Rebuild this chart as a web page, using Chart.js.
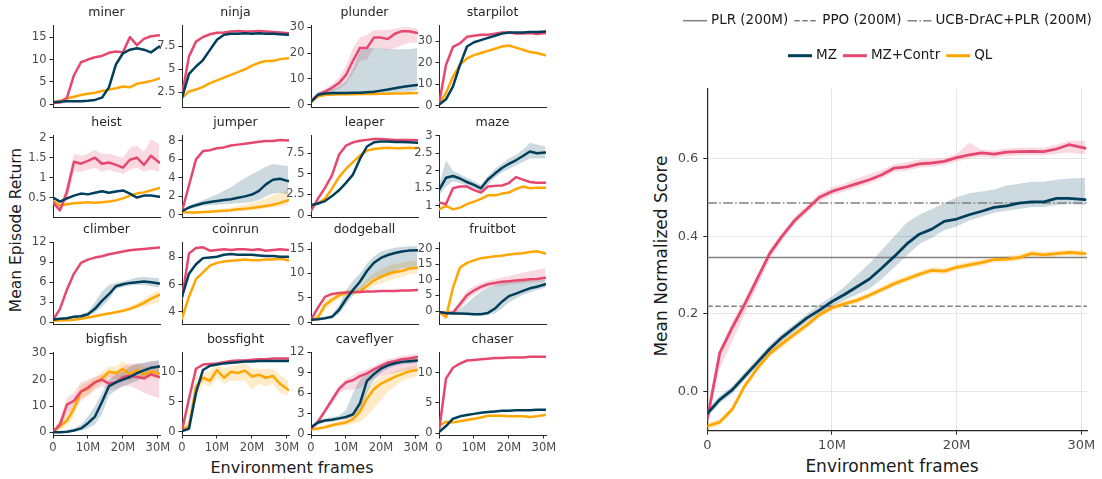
<!DOCTYPE html>
<html>
<head>
<meta charset="utf-8">
<script src="https://cdn.jsdelivr.net/npm/chart.js@4.4.0/dist/chart.umd.min.js"></script>
<style>
  body { margin: 0; background: #fff; width: 1102px; height: 479px; position: relative; overflow: hidden; font-family: 'DejaVu Sans', sans-serif; }
  canvas { position: absolute; }
  .lbl { position: absolute; white-space: nowrap; color: #1a1a1a; transform: translate(-50%, -50%); }
  .rot { transform: translate(-50%, -50%) rotate(-90deg); }
</style>
</head>
<body>
<div class="lbl rot" style="left:15.5px;top:230px;font-size:15.5px">Mean Episode Return</div>
<div class="lbl" style="left:292px;top:467px;font-size:16px">Environment frames</div>
<div class="lbl rot" style="left:661px;top:256px;font-size:17px">Mean Normalized Score</div>
<div class="lbl" style="left:892px;top:466px;font-size:17px">Environment frames</div>
<script>
// ---- data (frames in millions) ----
const seriesNames = ['MZ', 'MZ+Contr', 'QL'];
const frames = [0, 2, 4, 6, 8, 10, 12, 14, 16, 18, 20, 22, 24, 26, 28, 30.4];

const minerMZ = [0.5, 0.6, 0.7, 0.7, 0.7, 0.8, 1.0, 1.5, 3.8, 8.9, 11.4, 12.2, 12.5, 12.2, 11.6, 12.9];
const minerContr = [0.3, 0.4, 1.5, 6.5, 9.4, 10.0, 10.5, 10.8, 11.5, 11.8, 11.6, 15.0, 13.2, 14.6, 15.2, 15.4];
const minerQL = [0.4, 0.8, 1.3, 1.7, 2.1, 2.4, 2.6, 3.0, 3.3, 3.6, 4.0, 3.8, 4.6, 4.9, 5.2, 5.8];
const minerTicks = [0, 5, 10, 15];

const ninjaMZ = [1.9, 4.5, 5.3, 6.0, 7.1, 8.2, 8.75, 8.85, 8.85, 8.9, 8.85, 8.9, 8.85, 8.85, 8.8, 8.75];
const ninjaContr = [2.2, 6.4, 8.0, 8.5, 8.8, 8.95, 9.0, 9.1, 9.15, 9.1, 9.1, 9.15, 9.1, 9.05, 9.0, 8.9];
const ninjaQL = [1.9, 2.6, 2.8, 3.1, 3.5, 3.8, 4.1, 4.4, 4.7, 5.0, 5.4, 5.7, 5.9, 5.9, 6.1, 6.2];
const ninjaTicks = [2.5, 5, 7.5];

const plunderMZ = [1.0, 3.8, 4.3, 4.5, 4.5, 4.5, 4.6, 4.6, 4.8, 5.0, 5.4, 5.8, 6.3, 6.8, 7.2, 7.6];
const plunderMZLow = [0.3, 2.5, 3.5, 3.5, 3.5, 3.5, 3.6, 3.6, 3.7, 3.8, 4.0, 4.2, 4.5, 5.0, 5.0, 5.5];
const plunderMZHigh = [1.5, 5.0, 5.5, 6.0, 7.0, 9.0, 14, 21, 22, 22, 22, 21.5, 21.5, 21.5, 21.5, 22];
const plunderContr = [1.5, 3.8, 5.0, 6.5, 8.3, 11.5, 17, 22, 22, 26, 26, 25.5, 27.5, 28.5, 28.5, 27.8];
const plunderContrLow = [1.0, 3.0, 4.0, 5.0, 6.0, 8.0, 12, 17, 17.5, 22, 22, 21, 22, 23, 24, 24];
const plunderContrHigh = [2.0, 4.5, 6.0, 8.0, 10.5, 15, 22, 26, 27, 29, 29, 29, 29.5, 30, 30, 29.5];
const plunderQL = [1.0, 3.2, 3.7, 3.9, 4.0, 4.0, 4.0, 4.1, 4.1, 4.1, 4.2, 4.2, 4.3, 4.3, 4.4, 4.5];
const plunderTicks = [0, 10, 20, 30];

const starpilotMZ = [0.5, 3, 9, 19, 27.5, 29.5, 30.5, 31.5, 32.5, 33.5, 34, 34, 34, 34.2, 34.3, 34.5];
const starpilotContr = [0.8, 19, 27.3, 29, 32, 32.5, 33, 33, 33.5, 34, 34, 33.5, 33.5, 33.8, 33.3, 33.8];
const starpilotQL = [0.5, 6, 13.5, 19, 22, 23.5, 24.5, 25.5, 26.5, 27.5, 28, 27, 26, 25, 24.5, 23.5];
const starpilotTicks = [0, 10, 20, 30];

const heistMZ = [0.5, 0.4, 0.48, 0.55, 0.6, 0.58, 0.62, 0.66, 0.62, 0.65, 0.68, 0.6, 0.5, 0.55, 0.55, 0.52];
const heistContr = [0.38, 0.18, 0.65, 1.4, 1.35, 1.42, 1.5, 1.35, 1.38, 1.32, 1.25, 1.45, 1.5, 1.32, 1.55, 1.38];
const heistContrLow = [0.3, 0.15, 0.4, 1.15, 1.15, 1.2, 1.25, 1.15, 1.2, 1.15, 1.1, 1.2, 1.25, 1.15, 1.2, 1.15];
const heistContrHigh = [0.45, 0.25, 0.85, 1.6, 1.55, 1.6, 1.7, 1.6, 1.6, 1.55, 1.5, 1.75, 1.8, 1.65, 1.95, 1.85];
const heistQL = [0.42, 0.3, 0.33, 0.36, 0.37, 0.38, 0.37, 0.38, 0.4, 0.43, 0.48, 0.55, 0.6, 0.63, 0.68, 0.74];
const heistTicks = [0.5, 1, 1.5, 2];

const jumperMZ = [0.4, 0.8, 1.05, 1.25, 1.4, 1.5, 1.6, 1.7, 1.85, 2.0, 2.2, 2.6, 3.3, 3.8, 3.9, 3.65];
const jumperMZLow = [0.3, 0.6, 0.8, 1, 1.05, 1.1, 1.15, 1.2, 1.25, 1.3, 1.4, 1.6, 2, 2.3, 2.4, 2.2];
const jumperMZHigh = [0.5, 1, 1.3, 1.6, 1.9, 2.2, 2.6, 3, 3.5, 4, 4.4, 4.8, 5.2, 5.5, 5.4, 5.3];
const jumperContr = [0.4, 3.2, 6.0, 6.9, 7.0, 7.2, 7.3, 7.5, 7.6, 7.7, 7.8, 7.9, 8.0, 8.0, 8.1, 8.05];
const jumperQL = [0.3, 0.25, 0.25, 0.3, 0.35, 0.4, 0.45, 0.5, 0.6, 0.65, 0.75, 0.85, 0.95, 1.1, 1.3, 1.6];
const jumperQLLow = [0.25, 0.2, 0.2, 0.25, 0.25, 0.3, 0.3, 0.35, 0.4, 0.45, 0.5, 0.6, 0.7, 0.8, 0.9, 1.1];
const jumperQLHigh = [0.35, 0.3, 0.3, 0.4, 0.5, 0.6, 0.7, 0.8, 0.95, 1.1, 1.3, 1.5, 1.8, 2.1, 2.4, 2.7];
const jumperTicks = [0, 2, 4, 6, 8];

const leaperMZ = [1.2, 1.4, 1.7, 2.3, 3.0, 3.9, 4.9, 6.8, 8.3, 8.8, 8.9, 8.9, 8.85, 8.85, 8.8, 8.75];
const leaperContr = [0.5, 2.0, 3.3, 4.8, 7.3, 8.4, 8.8, 9.0, 9.1, 9.2, 9.2, 9.15, 9.1, 9.1, 9.1, 9.05];
const leaperQL = [1.2, 1.4, 2.0, 3.2, 4.6, 5.6, 6.4, 7.2, 7.8, 8.0, 8.1, 8.15, 8.1, 8.1, 8.15, 8.1];
const leaperTicks = [0, 2.5, 5, 7.5];

const mazeMZ = [1.45, 1.8, 1.85, 1.78, 1.68, 1.6, 1.5, 1.75, 1.92, 2.08, 2.2, 2.3, 2.42, 2.55, 2.5, 2.52];
const mazeMZLow = [1.3, 1.55, 1.7, 1.65, 1.55, 1.5, 1.4, 1.6, 1.8, 1.95, 2.05, 2.15, 2.25, 2.35, 2.35, 2.35];
const mazeMZHigh = [1.6, 2.3, 2.0, 1.9, 1.8, 1.7, 1.6, 1.85, 2.05, 2.2, 2.35, 2.45, 2.6, 2.8, 2.75, 2.7];
const mazeContr = [1.1, 1.05, 1.5, 1.55, 1.55, 1.45, 1.38, 1.55, 1.57, 1.58, 1.65, 1.82, 1.75, 1.68, 1.66, 1.66];
const mazeQL = [0.9, 1.0, 0.9, 0.95, 1.05, 1.12, 1.2, 1.3, 1.3, 1.35, 1.38, 1.48, 1.55, 1.5, 1.52, 1.52];
const mazeTicks = [1, 1.5, 2, 2.5, 3];

const climberMZ = [0.4, 0.5, 0.6, 0.8, 0.9, 1.2, 2.0, 3.2, 4.2, 5.4, 5.7, 5.9, 6.0, 6.1, 6.0, 5.8];
const climberMZLow = [0.3, 0.4, 0.5, 0.6, 0.7, 0.9, 1.4, 2.3, 3.4, 5.0, 5.3, 5.5, 5.6, 5.6, 5.4, 5.2];
const climberMZHigh = [0.5, 0.6, 0.8, 1.0, 1.2, 1.6, 3.0, 4.6, 5.6, 5.9, 6.1, 6.4, 6.7, 6.8, 6.7, 6.6];
const climberContr = [0.3, 2.0, 4.9, 7.3, 8.9, 9.4, 9.7, 9.9, 10.2, 10.4, 10.6, 10.8, 10.9, 11.0, 11.1, 11.2];
const climberQL = [0.2, 0.25, 0.3, 0.35, 0.5, 0.7, 0.9, 1.1, 1.3, 1.5, 1.7, 2.0, 2.4, 2.9, 3.5, 4.1];
const climberQLLow = [0.1, 0.15, 0.2, 0.25, 0.4, 0.55, 0.75, 0.95, 1.1, 1.3, 1.45, 1.7, 2.0, 2.3, 2.7, 3.0];
const climberQLHigh = [0.3, 0.35, 0.4, 0.45, 0.6, 0.8, 1.0, 1.25, 1.5, 1.7, 2.0, 2.4, 2.9, 3.5, 4.2, 4.9];
const climberTicks = [0, 3, 6, 9, 12];

const coinrunMZ = [5.1, 6.8, 7.5, 7.95, 8.0, 8.05, 8.2, 8.25, 8.2, 8.2, 8.2, 8.15, 8.1, 8.1, 8.05, 8.05];
const coinrunContr = [5.0, 8.3, 8.7, 8.75, 8.5, 8.55, 8.6, 8.55, 8.6, 8.6, 8.55, 8.6, 8.5, 8.55, 8.6, 8.55];
const coinrunQL = [3.5, 5.1, 6.4, 6.9, 7.4, 7.6, 7.7, 7.75, 7.8, 7.85, 7.8, 7.8, 7.85, 7.85, 7.9, 7.8];
const coinrunTicks = [4, 5, 6, 7, 8, 9];

const dodgeballMZ = [0.5, 0.6, 0.8, 1.1, 2.5, 4.7, 6.6, 8.3, 10.5, 12.2, 13.2, 13.8, 14.2, 14.5, 14.7, 14.8];
const dodgeballMZLow = [0.3, 0.4, 0.6, 0.8, 1.8, 3.5, 5.5, 6.5, 8, 9, 9.5, 10, 10.5, 11, 11.2, 11.5];
const dodgeballMZHigh = [0.7, 0.8, 1.0, 1.5, 3.5, 6.5, 8.5, 10, 12, 13.5, 14.5, 15, 15.3, 15.5, 15.6, 15.6];
const dodgeballContr = [0.5, 3.0, 5.2, 5.8, 6.0, 6.1, 6.2, 6.2, 6.3, 6.3, 6.4, 6.4, 6.4, 6.5, 6.5, 6.6];
const dodgeballQL = [0.3, 1.0, 3.5, 4.6, 5.5, 6.0, 6.1, 6.3, 7.5, 8.6, 9.3, 9.9, 10.3, 10.5, 11.0, 11.2];
const dodgeballQLLow = [0.2, 0.5, 2.5, 3.8, 4.8, 5.5, 5.7, 5.8, 6.5, 7.5, 8, 8.5, 9, 9.3, 9.8, 10];
const dodgeballQLHigh = [0.5, 1.8, 4.5, 5.5, 6.3, 6.6, 6.7, 7.2, 8.8, 10, 10.8, 11.5, 12, 12.2, 12.5, 12.7];
const dodgeballTicks = [0, 5, 10, 15];

const fruitbotMZ = [-0.3, -0.6, -0.8, -0.8, -0.9, -1.0, -1.0, -0.6, 0.8, 3.0, 4.8, 5.6, 6.5, 7.3, 7.8, 8.6];
const fruitbotMZLow = [-0.5, -0.9, -1.2, -1.3, -1.3, -1.4, -1.4, -1.2, -0.8, 0.8, 2.8, 4, 5.2, 6, 6.8, 7.5];
const fruitbotMZHigh = [-0.2, -0.3, -0.3, 0.5, 2.5, 4.5, 6.3, 7.5, 8.3, 9, 9.3, 9.5, 9.7, 9.8, 9.9, 10];
const fruitbotContr = [-0.3, -0.7, -0.5, 2.2, 5.1, 6.6, 7.8, 8.6, 9.0, 9.4, 9.6, 9.8, 10.0, 10.2, 10.3, 10.7];
const fruitbotContrLow = [-0.6, -1.1, -1.2, 0.5, 3.5, 5.2, 6.6, 7.5, 8, 8.2, 8.5, 8.7, 8.9, 9.1, 9.3, 9.5];
const fruitbotContrHigh = [0, -0.3, 0.3, 3.5, 6.5, 8, 9, 9.7, 10.2, 10.8, 11.3, 11.8, 12.3, 12.8, 13.3, 13.8];
const fruitbotQL = [-0.3, -2.0, 7.5, 14, 15.5, 16.3, 17, 17.3, 17.6, 17.8, 18.2, 18.4, 18.6, 19, 19.2, 18.5];
const fruitbotTicks = [0, 5, 10, 15, 20];

const bigfishMZ = [0, 0, 0.2, 0.7, 1.5, 3.5, 6, 11.5, 17.5, 19, 20, 21, 22.5, 23.5, 24.5, 25];
const bigfishMZLow = [0, 0, 0, 0.2, 0.6, 1.5, 3, 7, 14, 16, 17.5, 18.5, 19.5, 21, 22, 22.5];
const bigfishMZHigh = [0.3, 0.3, 0.7, 1.5, 3, 6, 10, 15, 20, 22, 23, 25, 26, 26.5, 27, 27.5];
const bigfishContr = [0.2, 3.0, 10.5, 12, 15.5, 17, 19, 20, 18.5, 19, 21, 21.5, 21, 20.5, 22, 21];
const bigfishContrLow = [0, 1.5, 7, 9, 12, 14, 16, 17.5, 16, 16.5, 17.5, 17.5, 16.5, 15, 14, 13];
const bigfishContrHigh = [0.5, 5, 13, 15, 19, 20, 21, 22, 22, 23, 25, 26, 26, 26, 27, 27];
const bigfishQL = [0.2, 2.3, 4.5, 9, 15.5, 16.5, 19, 20.5, 23, 22.5, 24, 22, 23.5, 22, 23, 22.3];
const bigfishQLLow = [0, 1, 2.5, 6, 13, 14, 17, 18.5, 21, 20, 21.5, 19.5, 21, 19.5, 21, 20];
const bigfishQLHigh = [0.5, 4, 7, 12, 18, 19, 21, 23, 25, 25, 27, 25, 26, 25, 25, 24.5];
const bigfishTicks = [0, 10, 20, 30];

const bossfightMZ = [0.1, 0.5, 6.5, 10.3, 11.0, 11.2, 11.4, 11.5, 11.6, 11.7, 11.7, 11.8, 11.8, 11.8, 11.8, 11.8];
const bossfightContr = [0.2, 5.5, 10.5, 11.2, 11.3, 11.4, 11.6, 11.8, 11.9, 11.9, 12.0, 12.1, 12.1, 12.2, 12.2, 12.2];
const bossfightQL = [0.3, 1.0, 7.5, 9.0, 8.5, 10.3, 9.0, 10.0, 9.8, 10.2, 9.2, 9.5, 9.0, 9.3, 8.0, 7.0];
const bossfightQLLow = [0.1, 0.5, 5, 8, 7.5, 9, 8, 8.5, 8.5, 8.5, 7, 8, 7.5, 8, 6.5, 6];
const bossfightQLHigh = [0.5, 2, 9, 10, 10, 11.5, 10.5, 11, 11, 11.5, 10.5, 10.5, 10.5, 10.5, 9.5, 8.5];
const bossfightTicks = [0, 5, 10];

const caveflyerMZ = [1.0, 1.7, 2.0, 2.1, 2.3, 2.5, 2.9, 4.5, 7.8, 8.8, 9.6, 10.1, 10.4, 10.6, 10.7, 10.8];
const caveflyerMZLow = [0.8, 1.4, 1.7, 1.8, 2, 2.2, 2.5, 3, 6, 8, 9, 9.6, 10, 10.2, 10.3, 10.4];
const caveflyerMZHigh = [1.2, 2, 2.3, 2.5, 2.7, 3.5, 6, 8, 9, 9.5, 10.2, 10.6, 10.9, 11.1, 11.2, 11.3];
const caveflyerContr = [0.8, 1.8, 3.4, 5.0, 6.6, 7.6, 7.9, 8.5, 8.9, 9.5, 10.0, 10.5, 10.7, 11.0, 11.1, 11.3];
const caveflyerContrLow = [0.6, 1.4, 3, 4.5, 6, 6.5, 6.5, 6.8, 7.5, 8, 8.5, 8.8, 9, 9.2, 9.4, 9.5];
const caveflyerContrHigh = [1, 2.2, 3.8, 5.5, 7.2, 8.1, 8.6, 9.2, 9.5, 10, 10.5, 11, 11.2, 11.5, 11.6, 11.8];
const caveflyerQL = [0.7, 0.8, 1.0, 1.3, 1.5, 1.7, 2.2, 3.3, 5.2, 6.6, 7.4, 7.9, 8.4, 8.8, 9.2, 9.4];
const caveflyerQLLow = [0.5, 0.6, 0.8, 1, 1.2, 1.3, 1.5, 1.8, 2.6, 3.8, 5, 6.2, 7, 7.8, 8.2, 8.5];
const caveflyerQLHigh = [0.9, 1, 1.3, 1.6, 1.9, 2.3, 3.2, 5, 6.5, 7.7, 8.4, 8.9, 9.3, 9.6, 9.9, 10.1];
const caveflyerTicks = [0, 3, 6, 9, 12];

const chaserMZ = [0.2, 1.2, 2.4, 2.8, 3.0, 3.2, 3.4, 3.5, 3.6, 3.7, 3.7, 3.8, 3.8, 3.8, 3.9, 3.9];
const chaserContr = [0.3, 9.0, 10.8, 11.5, 12.0, 12.1, 12.2, 12.3, 12.4, 12.4, 12.5, 12.5, 12.5, 12.6, 12.6, 12.6];
const chaserQL = [1.2, 1.9, 1.8, 2.0, 2.2, 2.4, 2.6, 2.9, 2.9, 2.9, 2.8, 2.8, 2.8, 2.7, 2.8, 3.0];
const chaserTicks = [0, 5, 10];

// right panel: mean normalized score
const bigFrames = [0, 1, 2, 3, 4, 5, 6, 7, 8, 9, 10, 11, 12, 13, 14, 15, 16, 17, 18, 19, 20, 21, 22, 23, 24, 25, 26, 27, 28, 29, 30.3];
const bigMZ = [-0.056, -0.02, 0.005, 0.04, 0.075, 0.11, 0.14, 0.165, 0.19, 0.21, 0.232, 0.25, 0.27, 0.29, 0.318, 0.348, 0.38, 0.405, 0.418, 0.438, 0.444, 0.455, 0.464, 0.474, 0.478, 0.485, 0.488, 0.488, 0.497, 0.497, 0.494];
const bigMZLow = [-0.065, -0.03, -0.005, 0.03, 0.065, 0.1, 0.13, 0.155, 0.18, 0.2, 0.22, 0.235, 0.25, 0.265, 0.29, 0.32, 0.35, 0.38, 0.395, 0.415, 0.425, 0.44, 0.45, 0.46, 0.465, 0.47, 0.475, 0.475, 0.48, 0.482, 0.48];
const bigMZHigh = [-0.045, -0.01, 0.015, 0.05, 0.085, 0.12, 0.15, 0.175, 0.2, 0.225, 0.245, 0.27, 0.3, 0.33, 0.365, 0.4, 0.435, 0.455, 0.47, 0.485, 0.5, 0.51, 0.515, 0.52, 0.53, 0.535, 0.54, 0.54, 0.545, 0.548, 0.55];
const bigContr = [-0.07, 0.10, 0.165, 0.225, 0.29, 0.355, 0.40, 0.44, 0.47, 0.50, 0.515, 0.525, 0.535, 0.545, 0.558, 0.575, 0.578, 0.586, 0.588, 0.592, 0.602, 0.609, 0.614, 0.611, 0.616, 0.617, 0.618, 0.617, 0.624, 0.635, 0.626];
const bigContrLow = [-0.08, 0.06, 0.13, 0.2, 0.27, 0.34, 0.39, 0.43, 0.46, 0.49, 0.505, 0.515, 0.525, 0.535, 0.548, 0.565, 0.568, 0.576, 0.578, 0.582, 0.592, 0.6, 0.604, 0.601, 0.606, 0.607, 0.608, 0.607, 0.612, 0.615, 0.61];
const bigContrHigh = [-0.06, 0.11, 0.18, 0.24, 0.3, 0.365, 0.41, 0.45, 0.48, 0.51, 0.525, 0.535, 0.548, 0.56, 0.57, 0.585, 0.59, 0.597, 0.598, 0.6, 0.612, 0.64, 0.622, 0.62, 0.625, 0.627, 0.628, 0.627, 0.635, 0.645, 0.645];
const bigQL = [-0.088, -0.078, -0.045, 0.015, 0.06, 0.098, 0.124, 0.148, 0.172, 0.198, 0.216, 0.226, 0.235, 0.248, 0.263, 0.278, 0.29, 0.302, 0.312, 0.31, 0.32, 0.326, 0.332, 0.34, 0.341, 0.345, 0.355, 0.352, 0.355, 0.358, 0.355];
const bigQLLow = [-0.096, -0.086, -0.053, 0.007, 0.052, 0.09, 0.114, 0.138, 0.163, 0.19, 0.208, 0.218, 0.227, 0.24, 0.255, 0.27, 0.282, 0.294, 0.304, 0.302, 0.312, 0.318, 0.324, 0.332, 0.333, 0.337, 0.347, 0.344, 0.347, 0.35, 0.347];
const bigQLHigh = [-0.08, -0.07, -0.037, 0.023, 0.068, 0.106, 0.134, 0.156, 0.181, 0.206, 0.224, 0.234, 0.243, 0.256, 0.271, 0.286, 0.298, 0.31, 0.32, 0.318, 0.328, 0.334, 0.34, 0.348, 0.349, 0.353, 0.363, 0.36, 0.363, 0.366, 0.363];
const bigYTicks = [0, 0.2, 0.4, 0.6];
const frameTicks = [0, 10, 20, 30];

const baselineNames = ['PLR (200M)', 'PPO (200M)', 'UCB-DrAC+PLR (200M)'];
const baselineScores = [0.345, 0.22, 0.485];

// ---- styling / layout ----
Chart.defaults.font.family = "'DejaVu Sans', sans-serif";
const COLORS = { mz: '#003f5c', contr: '#e5476f', ql: '#ffa600' };
const BAND = { mz: 'rgba(0,63,92,0.2)', contr: 'rgba(229,71,111,0.2)', ql: 'rgba(255,166,0,0.22)' };
const BASE_DASH = [[], [5.5, 2.5], [9.6, 2.4, 1.5, 2.4]];
const TICK_COLOR = '#4a4a4a';
const AXIS_COLOR = '#262626';

const colLeft = [53, 182, 311, 439];
const rowTop = [25, 135, 242, 352];
const PLOT_W = 107, PLOT_H = 83, AXIS_W = 30, TOP_PAD = 2, TITLE_H = 20, RIGHT_PAD = 14, BOTTOM_PAD = 8;
const SMALL_XMAX = 30.6;

const panels = [
  { name: 'miner', mz: minerMZ, contr: minerContr, ql: minerQL, ticks: minerTicks, yMin: -0.6, yMax: 17.7, bands: [] },
  { name: 'ninja', mz: ninjaMZ, contr: ninjaContr, ql: ninjaQL, ticks: ninjaTicks, yMin: 0.9, yMax: 9.8, bands: [] },
  { name: 'plunder', mz: plunderMZ, contr: plunderContr, ql: plunderQL, ticks: plunderTicks, yMin: -1.0, yMax: 30.9,
    bands: [['mz', plunderMZLow, plunderMZHigh], ['contr', plunderContrLow, plunderContrHigh]] },
  { name: 'starpilot', mz: starpilotMZ, contr: starpilotContr, ql: starpilotQL, ticks: starpilotTicks, yMin: -0.6, yMax: 37.5, bands: [] },
  { name: 'heist', mz: heistMZ, contr: heistContr, ql: heistQL, ticks: heistTicks, yMin: 0.01, yMax: 2.07,
    bands: [['contr', heistContrLow, heistContrHigh]] },
  { name: 'jumper', mz: jumperMZ, contr: jumperContr, ql: jumperQL, ticks: jumperTicks, yMin: -0.24, yMax: 8.64,
    bands: [['mz', jumperMZLow, jumperMZHigh], ['ql', jumperQLLow, jumperQLHigh]] },
  { name: 'leaper', mz: leaperMZ, contr: leaperContr, ql: leaperQL, ticks: leaperTicks, yMin: -0.24, yMax: 9.69, bands: [] },
  { name: 'maze', mz: mazeMZ, contr: mazeContr, ql: mazeQL, ticks: mazeTicks, yMin: 0.68, yMax: 3.02,
    bands: [['mz', mazeMZLow, mazeMZHigh]] },
  { name: 'climber', mz: climberMZ, contr: climberContr, ql: climberQL, ticks: climberTicks, yMin: -0.29, yMax: 12.04,
    bands: [['mz', climberMZLow, climberMZHigh], ['ql', climberQLLow, climberQLHigh]] },
  { name: 'coinrun', mz: coinrunMZ, contr: coinrunContr, ql: coinrunQL, ticks: coinrunTicks, yMin: 3.08, yMax: 9.14, bands: [] },
  { name: 'dodgeball', mz: dodgeballMZ, contr: dodgeballContr, ql: dodgeballQL, ticks: dodgeballTicks, yMin: -0.4, yMax: 16.47,
    bands: [['mz', dodgeballMZLow, dodgeballMZHigh], ['ql', dodgeballQLLow, dodgeballQLHigh]] },
  { name: 'fruitbot', mz: fruitbotMZ, contr: fruitbotContr, ql: fruitbotQL, ticks: fruitbotTicks, yMin: -4.2, yMax: 22.2,
    bands: [['mz', fruitbotMZLow, fruitbotMZHigh], ['contr', fruitbotContrLow, fruitbotContrHigh]] },
  { name: 'bigfish', mz: bigfishMZ, contr: bigfishContr, ql: bigfishQL, ticks: bigfishTicks, yMin: -1.0, yMax: 30.5,
    bands: [['mz', bigfishMZLow, bigfishMZHigh], ['contr', bigfishContrLow, bigfishContrHigh], ['ql', bigfishQLLow, bigfishQLHigh]] },
  { name: 'bossfight', mz: bossfightMZ, contr: bossfightContr, ql: bossfightQL, ticks: bossfightTicks, yMin: -0.55, yMax: 13.3,
    bands: [['ql', bossfightQLLow, bossfightQLHigh]] },
  { name: 'caveflyer', mz: caveflyerMZ, contr: caveflyerContr, ql: caveflyerQL, ticks: caveflyerTicks, yMin: -0.14, yMax: 12.05,
    bands: [['mz', caveflyerMZLow, caveflyerMZHigh], ['contr', caveflyerContrLow, caveflyerContrHigh], ['ql', caveflyerQLLow, caveflyerQLHigh]] },
  { name: 'chaser', mz: chaserMZ, contr: chaserContr, ql: chaserQL, ticks: chaserTicks, yMin: -0.28, yMax: 13.4, bands: [] }
];

function makeCanvas(left, top, w, h) {
  const c = document.createElement('canvas');
  c.width = w; c.height = h;
  c.style.left = left + 'px'; c.style.top = top + 'px';
  c.style.width = w + 'px'; c.style.height = h + 'px';
  document.body.appendChild(c);
  return c;
}

function pts(xs, ys) { return xs.map((x, i) => ({ x: x, y: ys[i] })); }

function buildDatasets(xs, lines, bands, width) {
  const ds = [];
  lines.forEach(([key, arr, label]) => ds.push({
    label: label, data: pts(xs, arr), borderColor: COLORS[key], borderWidth: width,
    pointRadius: 0, tension: 0, fill: false, borderJoinStyle: 'round', borderCapStyle: 'round'
  }));
  bands.forEach(([key, lo, hi]) => {
    ds.push({ data: pts(xs, lo), borderColor: 'transparent', borderWidth: 0, pointRadius: 0, fill: false });
    ds.push({ data: pts(xs, hi), borderColor: 'transparent', borderWidth: 0, pointRadius: 0, fill: '-1', backgroundColor: BAND[key] });
  });
  return ds;
}

function fixedTicks(vals) { return (axis) => { axis.ticks = vals.map(v => ({ value: v })); }; }
function frameLabel(v) { return v === 0 ? '0' : v + 'M'; }

// ---- small multiples ----
panels.forEach((p, i) => {
  const row = Math.floor(i / 4), col = i % 4;
  const bottomRow = row === 3;
  const xH = bottomRow ? 22 : 1;
  const w = AXIS_W + PLOT_W + RIGHT_PAD;
  const h = TOP_PAD + TITLE_H + PLOT_H + xH + BOTTOM_PAD;
  const canvas = makeCanvas(colLeft[col] - AXIS_W, rowTop[row] - TOP_PAD - TITLE_H, w, h);
  const lines = [['mz', p.mz, seriesNames[0]], ['contr', p.contr, seriesNames[1]], ['ql', p.ql, seriesNames[2]]];
  new Chart(canvas, {
    type: 'line',
    data: { datasets: buildDatasets(frames, lines, p.bands, 2.5) },
    options: {
      responsive: false, animation: false, events: [],
      layout: { padding: { top: TOP_PAD, right: RIGHT_PAD, bottom: BOTTOM_PAD, left: 0 } },
      plugins: {
        legend: { display: false }, tooltip: { enabled: false },
        filler: { drawTime: 'beforeDatasetsDraw' },
        title: { display: true, text: p.name, fullSize: false, color: AXIS_COLOR,
          font: { size: 12.5, weight: 'normal', lineHeight: 1.2 }, padding: { top: 0, bottom: 5 } }
      },
      scales: {
        x: {
          type: 'linear', min: 0, max: SMALL_XMAX,
          afterBuildTicks: fixedTicks(frameTicks),
          afterFit: (s) => { s.height = xH; },
          border: { display: true, color: AXIS_COLOR, width: 1 },
          grid: { drawOnChartArea: false, drawTicks: bottomRow, tickLength: 3.5, tickColor: AXIS_COLOR },
          ticks: { display: bottomRow, callback: frameLabel, color: TICK_COLOR, font: { size: 11.5 }, padding: 3, maxRotation: 0 }
        },
        y: {
          min: p.yMin, max: p.yMax,
          afterBuildTicks: fixedTicks(p.ticks),
          afterFit: (s) => { s.width = AXIS_W; },
          border: { display: true, color: AXIS_COLOR, width: 1 },
          grid: { drawOnChartArea: false, drawTicks: true, tickLength: 3.5, tickColor: AXIS_COLOR },
          ticks: { callback: (v) => String(v), color: TICK_COLOR, font: { size: 11.5 }, padding: 3 }
        }
      }
    }
  });
});

// ---- right chart ----
const BIG_XMAX = 30.45;
const legendRows = {
  id: 'legendRows',
  afterDraw(chart) {
    const ctx = chart.ctx;
    ctx.save();
    ctx.font = "13.5px 'DejaVu Sans', sans-serif";
    ctx.textBaseline = 'middle';
    const drawRow = (items, x, y) => {
      items.forEach(it => {
        ctx.strokeStyle = it.color; ctx.lineWidth = it.width; ctx.setLineDash(it.dash);
        ctx.beginPath(); ctx.moveTo(x, y); ctx.lineTo(x + 24, y); ctx.stroke();
        ctx.setLineDash([]);
        ctx.fillStyle = '#1a1a1a';
        ctx.fillText(it.label, x + 28, y);
        x += 28 + ctx.measureText(it.label).width + 6;
      });
    };
    drawRow(baselineNames.map((n, k) => ({ label: n, color: '#808080', width: 1.5, dash: BASE_DASH[k] })), 43, 20.7);
    drawRow([['mz', 0], ['contr', 1], ['ql', 2]].map(([key, k]) => ({ label: seriesNames[k], color: COLORS[key], width: 3, dash: [] })), 148, 55.7);
    ctx.restore();
  }
};

const bigLines = [['mz', bigMZ, seriesNames[0]], ['contr', bigContr, seriesNames[1]], ['ql', bigQL, seriesNames[2]]];
const bigBands = [['mz', bigMZLow, bigMZHigh], ['contr', bigContrLow, bigContrHigh], ['ql', bigQLLow, bigQLHigh]];
const bigDatasets = buildDatasets(bigFrames, bigLines, bigBands, 2.8);
baselineScores.forEach((s, k) => bigDatasets.splice(3 + k, 0, {
  label: baselineNames[k], data: [{ x: 0, y: s }, { x: BIG_XMAX, y: s }],
  borderColor: '#808080', borderWidth: 1.5, borderDash: BASE_DASH[k], pointRadius: 0, fill: false
}));

new Chart(makeCanvas(640, 0, 462, 479), {
  type: 'line',
  data: { datasets: bigDatasets },
  plugins: [legendRows],
  options: {
    responsive: false, animation: false, events: [],
    layout: { padding: { top: 88.3, right: 15, bottom: 0, left: 0 } },
    plugins: { legend: { display: false }, tooltip: { enabled: false }, filler: { drawTime: 'beforeDatasetsDraw' } },
    scales: {
      x: {
        type: 'linear', min: 0, max: BIG_XMAX,
        afterBuildTicks: fixedTicks(frameTicks),
        afterFit: (s) => { s.height = 48.3; },
        border: { display: true, color: AXIS_COLOR, width: 1.2 },
        grid: { color: '#e6e6e6', lineWidth: 1, drawTicks: true, tickLength: 4, tickColor: AXIS_COLOR },
        ticks: { callback: frameLabel, color: TICK_COLOR, font: { size: 13 }, padding: 3, maxRotation: 0 }
      },
      y: {
        min: -0.1, max: 0.78,
        afterBuildTicks: fixedTicks(bigYTicks),
        afterFit: (s) => { s.width = 67.3; },
        border: { display: true, color: AXIS_COLOR, width: 1.2 },
        grid: { color: '#e6e6e6', lineWidth: 1, drawTicks: true, tickLength: 4, tickColor: AXIS_COLOR },
        ticks: { callback: (v) => v.toFixed(1), color: TICK_COLOR, font: { size: 13 }, padding: 5 }
      }
    }
  }
});
</script>
</body>
</html>
